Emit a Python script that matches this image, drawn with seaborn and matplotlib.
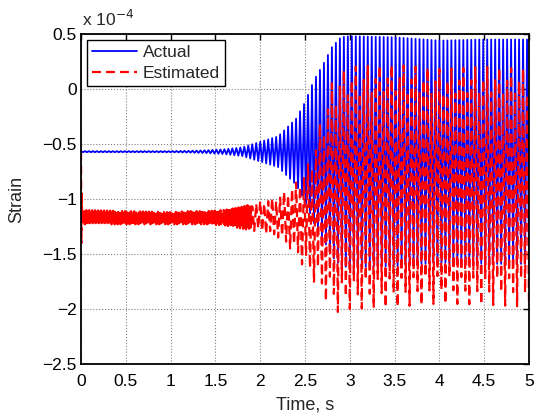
import numpy as np
import pandas as pd
import matplotlib
matplotlib.use("Agg")
import matplotlib.pyplot as plt
import seaborn as sns
from matplotlib.ticker import FuncFormatter

# envelopes of the oscillating traces (units of 1e-4 strain)
env_time = [0.0, 0.5, 1.0, 1.2, 1.4, 1.6, 1.8, 2.0, 2.2, 2.4, 2.5, 2.6, 2.7,
            2.8, 2.9, 3.0, 3.5, 4.0, 4.5, 5.0]
actual_upper = [-0.565, -0.565, -0.565, -0.562, -0.557, -0.548, -0.53, -0.48,
                -0.43, -0.27, -0.12, 0.08, 0.22, 0.38, 0.47, 0.48, 0.47, 0.44,
                0.45, 0.45]
actual_lower = [-0.575, -0.575, -0.575, -0.578, -0.583, -0.592, -0.61, -0.66,
                -0.71, -0.87, -1.02, -1.22, -1.36, -1.52, -1.61, -1.62, -1.61,
                -1.58, -1.59, -1.59]
# the estimate's peaks scatter between a high and a low envelope
est_upper_hi = [-1.10, -1.11, -1.12, -1.11, -1.11, -1.10, -1.07, -1.02, -0.98,
                -0.85, -0.75, -0.55, -0.20, 0.05, 0.15, 0.20, 0.22, 0.18, 0.20,
                0.18]
est_upper_lo = [-1.12, -1.13, -1.14, -1.13, -1.13, -1.12, -1.09, -1.05, -1.02,
                -0.92, -0.85, -0.70, -0.45, -0.20, -0.08, -0.05, -0.02, -0.05,
                -0.03, -0.05]
est_lower_deep = [-1.23, -1.23, -1.23, -1.23, -1.23, -1.24, -1.27, -1.30,
                  -1.35, -1.50, -1.64, -1.76, -1.90, -1.98, -2.05, -2.00,
                  -1.98, -1.95, -1.96, -1.98]
est_lower_shallow = [-1.21, -1.21, -1.21, -1.21, -1.21, -1.22, -1.25, -1.27,
                     -1.31, -1.42, -1.50, -1.58, -1.66, -1.72, -1.76, -1.74,
                     -1.72, -1.70, -1.72, -1.72]

# start-up transient of the estimate
est_start_time = [0.0, 0.004, 0.008, 0.014]
est_start_value = [-0.57, -1.40, -0.95, -1.18]

osc_freq = 22.5      # Hz, counted from the peaks
noise_split = 1.9    # s, before this the estimate is a dense noisy band

half = 1.0 / (2 * osc_freq)
t_peaks = np.arange(0, 5.0 + half / 2, half)
k = np.arange(len(t_peaks))
act = np.where(k % 2 == 0, np.interp(t_peaks, env_time, actual_upper),
               np.interp(t_peaks, env_time, actual_lower))

t_e = np.concatenate([np.arange(est_start_time[-1] + half / 4, noise_split,
                                half / 4),
                      t_peaks[t_peaks >= noise_split]])
j = np.arange(len(t_e))
up_hi = np.interp(t_e, env_time, est_upper_hi)
up_lo = np.interp(t_e, env_time, est_upper_lo)
lo_d = np.interp(t_e, env_time, est_lower_deep)
lo_s = np.interp(t_e, env_time, est_lower_shallow)
est_up = np.choose((j // 2) % 3, [up_hi, up_lo, (up_hi + up_lo) / 2])
est_lo = np.choose((j // 2 + 1) % 3, [lo_d, lo_s, (lo_d + lo_s) / 2])
est = np.where(j % 2 == 1, est_up, est_lo)

t_est = np.concatenate([est_start_time, t_e])
est = np.concatenate([est_start_value, est])

df_act = pd.DataFrame({"Time": t_peaks, "Strain": act})
df_est = pd.DataFrame({"Time": t_est, "Strain": est})

sns.set_style("white")
plt.rcParams["font.family"] = ["Liberation Sans", "DejaVu Sans"]

fig = plt.figure(figsize=(5.34, 4.18), dpi=100)
ax = fig.add_axes([0.1517, 0.1292, 0.8390, 0.7895])

sns.lineplot(data=df_act, x="Time", y="Strain", ax=ax, sort=False,
             estimator=None, color="#0000ff", lw=1.3, label="Actual")
sns.lineplot(data=df_est, x="Time", y="Strain", ax=ax, sort=False,
             estimator=None, color="#ff0000", lw=1.6, label="Estimated")
ax.lines[1].set_dashes([4.0, 2.3])

ax.set_xlim(0, 5)
ax.set_ylim(-2.5, 0.5)
ax.set_xticks(np.arange(0, 5.01, 0.5))
ax.set_yticks(np.arange(-2.5, 0.51, 0.5))
fmt = FuncFormatter(lambda v, p: ("%g" % round(v, 2)).replace("-", "\u2212"))
ax.xaxis.set_major_formatter(fmt)
ax.yaxis.set_major_formatter(fmt)
ax.tick_params(direction="in", length=4, width=1, labelsize=12.5,
               top=True, right=True, colors="black")
ax.tick_params(axis="x", pad=7)
ax.tick_params(axis="y", pad=3)
ax.grid(True, linestyle=":", color="#808080", lw=0.8)
for s in ax.spines.values():
    s.set_color("black")
    s.set_linewidth(1.3)

ax.set_xlabel("Time, s", fontsize=13)
ax.set_ylabel("Strain", fontsize=13)
ax.xaxis.set_label_coords(0.5, -0.1)
ax.yaxis.set_label_coords(-0.125, 0.5)
fig.text(0.1536, 0.938, "x 10$^{\u22124}$", fontsize=12.5, ha="left",
         va="baseline")

leg = ax.legend(loc="upper left", fontsize=12.5, frameon=True, fancybox=False,
                edgecolor="black", framealpha=1, borderaxespad=0.35,
                handlelength=2.6, handletextpad=0.3, labelspacing=0.3,
                borderpad=0.3)
leg.get_frame().set_linewidth(1.0)
leg.get_lines()[1].set_dashes([4.0, 2.3])

fig.savefig("out.png", dpi=100)
